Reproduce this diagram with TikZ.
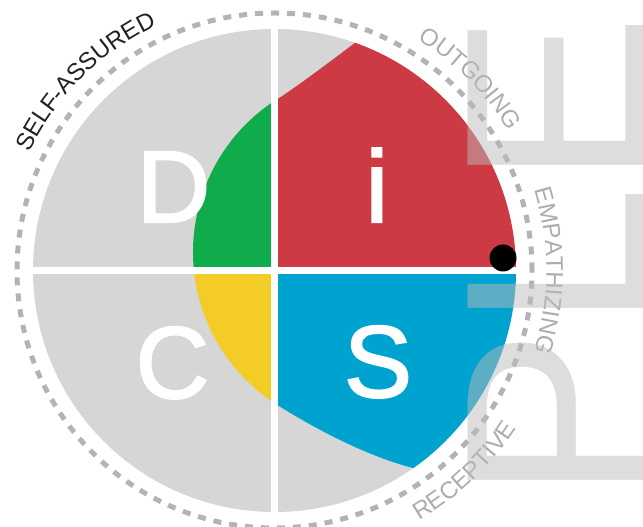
\documentclass[tikz,border=0pt]{standalone}
\usepackage{fontspec}
\setmainfont{Liberation Sans}
\newfontfamily\bigfont[FakeBold=2]{Liberation Sans}
\usetikzlibrary{decorations.text}
\definecolor{discgray}{HTML}{D6D6D6}
\definecolor{dred}{HTML}{CE3A44}
\definecolor{dgreen}{HTML}{10AC4C}
\definecolor{dblue}{HTML}{00A2D0}
\definecolor{dyellow}{HTML}{F4CC26}
\definecolor{dashgray}{HTML}{B3B3B3}
\definecolor{lblgray}{HTML}{ADADAD}
\definecolor{lbldark}{HTML}{222222}
\definecolor{wmgray}{HTML}{BBBBBB}
\newcommand\lblfont{\fontsize{24}{24}\selectfont}
\begin{document}
\begin{tikzpicture}[x=1pt,y=1pt,
  bigletter/.style={text=white, font=\bigfont\fontsize{102}{102}\selectfont, inner sep=0pt, anchor=base},
  watermark/.style={text=wmgray, text opacity=0.5, font=\fontsize{258}{258}\selectfont, inner sep=0pt, rotate=90},
  divider/.style={draw=white, line width=7pt},
  dashring/.style={draw=dashgray, line width=5pt, dash pattern=on 8pt off 8pt},
]
\useasboundingbox (0,0) rectangle (643,527);
\clip (0,0) rectangle (643,527);
\coordinate (C) at (274.5,256.5);
\fill[discgray] (C) circle[radius=241.5];
\begin{scope}
  \clip (C) circle[radius=241.5];
  \clip (430,540) .. controls (390,512) and (320,456) .. (280.8,430.1)
        arc[start angle=121, end angle=238, radius=181]
        .. controls (320,95.3) and (370,70) .. (413,59)
        .. controls (440,52) and (470,45) .. (500,38)
        -- (640,38) -- (640,545) -- cycle;
  \fill[dgreen] (0,256.5) rectangle (274.5,527);
  \fill[dred] (274.5,256.5) rectangle (643,527);
  \fill[dblue] (274.5,0) rectangle (643,256.5);
  \fill[dyellow] (0,0) rectangle (274.5,256.5);
\end{scope}
\draw[divider] (274.5,10) -- (274.5,503);
\draw[divider] (28,256) -- (521,256);
\node[bigletter] (D) at (173.5,305) {D};
\node[bigletter] (I) at (377,305) {i};
\node[bigletter] (Cq) at (172.5,129) {C};
\node[bigletter] (S) at (378,130) {S};
\node[circle, fill=black, minimum size=27pt, inner sep=0pt] (dot) at (503,269) {};
\draw[dashring] (C) circle[radius=257.5];
\path[decorate, decoration={text along path, text align=center,
   text={|\lblfont\color{lbldark}|SELF-ASSURED}}]
   ([shift={(175:272)}]C) arc[start angle=175, end angle=95, radius=272];
\path[decorate, decoration={text along path, text align=center,
   text={|\lblfont\color{lblgray}|OUTGOING}}]
   ([shift={(80:272)}]C) arc[start angle=80, end angle=9, radius=272];
\path[decorate, decoration={text along path, text align=center,
   text={|\lblfont\color{lblgray}|EMPATHIZING}}]
   ([shift={(35:272)}]C) arc[start angle=35, end angle=-35, radius=272];
\path[decorate, decoration={text along path, text align=center,
   text={|\lblfont\color{lblgray}|RECEPTIVE}}]
   ([shift={(-80:289)}]C) arc[start angle=-80, end angle=-13, radius=289];
\node[watermark, anchor=base west] (wmPLE) at (645,25.1) {PLE};
\node[watermark, anchor=base east] (wmSAM) at (645,21) {SAM};
\end{tikzpicture}
\end{document}
